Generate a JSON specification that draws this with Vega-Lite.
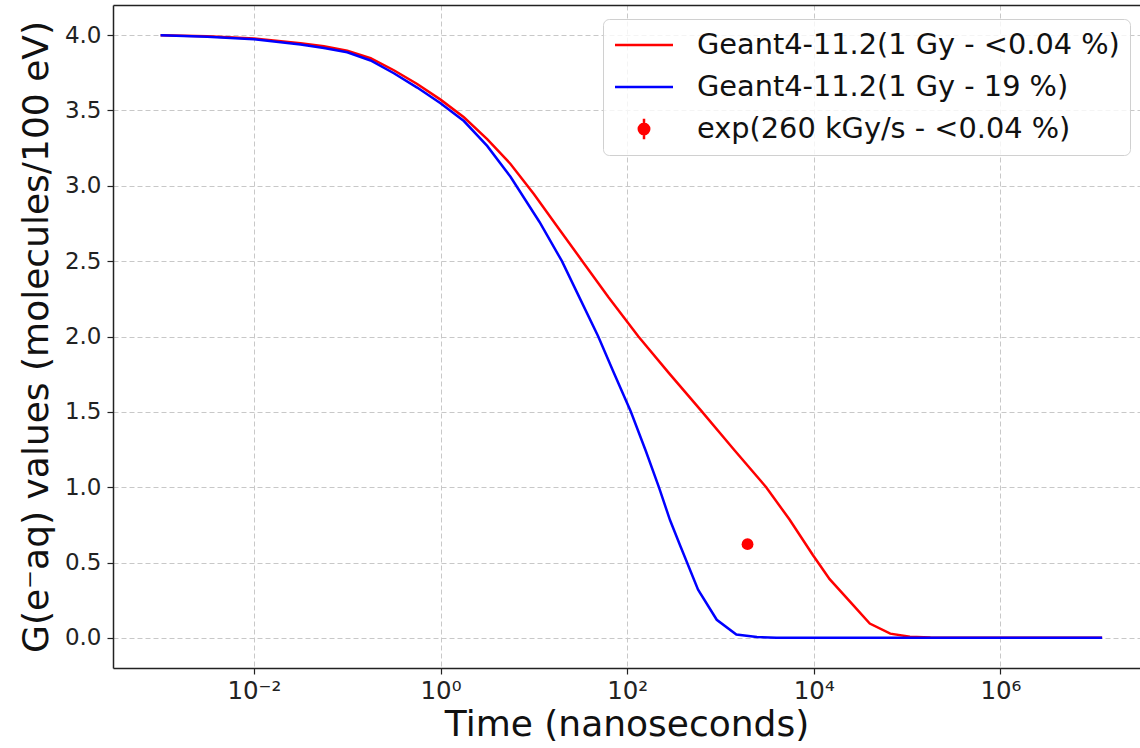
{
  "$schema": "https://vega.github.io/schema/vega-lite/v6.json",
  "autosize": "none",
  "width": 1027,
  "height": 663,
  "padding": {"left": 113, "top": 5, "right": 0, "bottom": 80},
  "background": "white",
  "data": {
    "values": [
      {"t": 0.001, "G": 4.0, "series": "Geant4-11.2(1 Gy - <0.04 %)"},
      {"t": 0.00316, "G": 3.992, "series": "Geant4-11.2(1 Gy - <0.04 %)"},
      {"t": 0.01, "G": 3.978, "series": "Geant4-11.2(1 Gy - <0.04 %)"},
      {"t": 0.0316, "G": 3.947, "series": "Geant4-11.2(1 Gy - <0.04 %)"},
      {"t": 0.0562, "G": 3.926, "series": "Geant4-11.2(1 Gy - <0.04 %)"},
      {"t": 0.1, "G": 3.897, "series": "Geant4-11.2(1 Gy - <0.04 %)"},
      {"t": 0.178, "G": 3.847, "series": "Geant4-11.2(1 Gy - <0.04 %)"},
      {"t": 0.316, "G": 3.767, "series": "Geant4-11.2(1 Gy - <0.04 %)"},
      {"t": 0.562, "G": 3.676, "series": "Geant4-11.2(1 Gy - <0.04 %)"},
      {"t": 1.0, "G": 3.572, "series": "Geant4-11.2(1 Gy - <0.04 %)"},
      {"t": 1.78, "G": 3.455, "series": "Geant4-11.2(1 Gy - <0.04 %)"},
      {"t": 3.16, "G": 3.31, "series": "Geant4-11.2(1 Gy - <0.04 %)"},
      {"t": 5.62, "G": 3.145, "series": "Geant4-11.2(1 Gy - <0.04 %)"},
      {"t": 10.0, "G": 2.945, "series": "Geant4-11.2(1 Gy - <0.04 %)"},
      {"t": 17.8, "G": 2.73, "series": "Geant4-11.2(1 Gy - <0.04 %)"},
      {"t": 33.1, "G": 2.5, "series": "Geant4-11.2(1 Gy - <0.04 %)"},
      {"t": 63.1, "G": 2.26, "series": "Geant4-11.2(1 Gy - <0.04 %)"},
      {"t": 132, "G": 2.0, "series": "Geant4-11.2(1 Gy - <0.04 %)"},
      {"t": 282, "G": 1.755, "series": "Geant4-11.2(1 Gy - <0.04 %)"},
      {"t": 617, "G": 1.51, "series": "Geant4-11.2(1 Gy - <0.04 %)"},
      {"t": 1413, "G": 1.245, "series": "Geant4-11.2(1 Gy - <0.04 %)"},
      {"t": 3090, "G": 1.0, "series": "Geant4-11.2(1 Gy - <0.04 %)"},
      {"t": 5495, "G": 0.785, "series": "Geant4-11.2(1 Gy - <0.04 %)"},
      {"t": 9772, "G": 0.55, "series": "Geant4-11.2(1 Gy - <0.04 %)"},
      {"t": 14791, "G": 0.39, "series": "Geant4-11.2(1 Gy - <0.04 %)"},
      {"t": 25704, "G": 0.225, "series": "Geant4-11.2(1 Gy - <0.04 %)"},
      {"t": 39811, "G": 0.095, "series": "Geant4-11.2(1 Gy - <0.04 %)"},
      {"t": 66069, "G": 0.028, "series": "Geant4-11.2(1 Gy - <0.04 %)"},
      {"t": 107152, "G": 0.007, "series": "Geant4-11.2(1 Gy - <0.04 %)"},
      {"t": 177828, "G": 0.002, "series": "Geant4-11.2(1 Gy - <0.04 %)"},
      {"t": 316228, "G": 0.0, "series": "Geant4-11.2(1 Gy - <0.04 %)"},
      {"t": 12302688, "G": 0.0, "series": "Geant4-11.2(1 Gy - <0.04 %)"},
      {"t": 0.001, "G": 4.0, "series": "Geant4-11.2(1 Gy - 19 %)"},
      {"t": 0.00316, "G": 3.99, "series": "Geant4-11.2(1 Gy - 19 %)"},
      {"t": 0.01, "G": 3.972, "series": "Geant4-11.2(1 Gy - 19 %)"},
      {"t": 0.0316, "G": 3.938, "series": "Geant4-11.2(1 Gy - 19 %)"},
      {"t": 0.0562, "G": 3.915, "series": "Geant4-11.2(1 Gy - 19 %)"},
      {"t": 0.1, "G": 3.886, "series": "Geant4-11.2(1 Gy - 19 %)"},
      {"t": 0.178, "G": 3.832, "series": "Geant4-11.2(1 Gy - 19 %)"},
      {"t": 0.316, "G": 3.747, "series": "Geant4-11.2(1 Gy - 19 %)"},
      {"t": 0.562, "G": 3.652, "series": "Geant4-11.2(1 Gy - 19 %)"},
      {"t": 1.0, "G": 3.548, "series": "Geant4-11.2(1 Gy - 19 %)"},
      {"t": 1.78, "G": 3.43, "series": "Geant4-11.2(1 Gy - 19 %)"},
      {"t": 3.16, "G": 3.265, "series": "Geant4-11.2(1 Gy - 19 %)"},
      {"t": 5.62, "G": 3.06, "series": "Geant4-11.2(1 Gy - 19 %)"},
      {"t": 11.5, "G": 2.76, "series": "Geant4-11.2(1 Gy - 19 %)"},
      {"t": 20.0, "G": 2.5, "series": "Geant4-11.2(1 Gy - 19 %)"},
      {"t": 31.6, "G": 2.245, "series": "Geant4-11.2(1 Gy - 19 %)"},
      {"t": 49.0, "G": 2.0, "series": "Geant4-11.2(1 Gy - 19 %)"},
      {"t": 70.8, "G": 1.77, "series": "Geant4-11.2(1 Gy - 19 %)"},
      {"t": 109.6, "G": 1.5, "series": "Geant4-11.2(1 Gy - 19 %)"},
      {"t": 158.5, "G": 1.24, "series": "Geant4-11.2(1 Gy - 19 %)"},
      {"t": 218.8, "G": 1.0, "series": "Geant4-11.2(1 Gy - 19 %)"},
      {"t": 288.4, "G": 0.78, "series": "Geant4-11.2(1 Gy - 19 %)"},
      {"t": 371.5, "G": 0.61, "series": "Geant4-11.2(1 Gy - 19 %)"},
      {"t": 575.4, "G": 0.32, "series": "Geant4-11.2(1 Gy - 19 %)"},
      {"t": 912, "G": 0.12, "series": "Geant4-11.2(1 Gy - 19 %)"},
      {"t": 1479, "G": 0.022, "series": "Geant4-11.2(1 Gy - 19 %)"},
      {"t": 2455, "G": 0.006, "series": "Geant4-11.2(1 Gy - 19 %)"},
      {"t": 3981, "G": 0.001, "series": "Geant4-11.2(1 Gy - 19 %)"},
      {"t": 10000, "G": 0.0, "series": "Geant4-11.2(1 Gy - 19 %)"},
      {"t": 12302688, "G": 0.0, "series": "Geant4-11.2(1 Gy - 19 %)"},
      {"t": 1950, "G": 0.622, "series": "exp(260 kGy/s - <0.04 %)"}
    ]
  },
  "layer": [
    {
      "transform": [{"filter": "datum.series != 'exp(260 kGy/s - <0.04 %)'"}],
      "mark": {"type": "line", "strokeWidth": 2.5, "clip": true},
      "encoding": {
        "x": {
          "field": "t", "type": "quantitative",
          "scale": {"type": "log", "domain": [0.000309, 31330000], "nice": false},
          "axis": {
            "values": [0.01, 1, 100, 10000, 1000000],
            "labelExpr": "datum.value < 0.1 ? '10⁻²' : datum.value < 10 ? '10⁰' : datum.value < 1000 ? '10²' : datum.value < 100000 ? '10⁴' : '10⁶'",
            "title": "Time (nanoseconds)",
            "grid": true,
            "labelFontSize": 24.5,
            "labelPadding": 5,
            "titlePadding": 5
          }
        },
        "y": {
          "field": "G", "type": "quantitative",
          "scale": {"domain": [-0.2, 4.2], "nice": false, "zero": false},
          "axis": {
            "values": [0, 0.5, 1, 1.5, 2, 2.5, 3, 3.5, 4],
            "format": ".1f",
            "title": "G(e⁻aq) values (molecules/100 eV)",
            "grid": true,
            "labelPadding": 6,
            "titlePadding": 9
          }
        },
        "color": {
          "field": "series", "type": "nominal",
          "scale": {
            "domain": ["Geant4-11.2(1 Gy - <0.04 %)", "Geant4-11.2(1 Gy - 19 %)", "exp(260 kGy/s - <0.04 %)"],
            "range": ["#ff0000", "#0000ff", "#ff0000"]
          },
          "legend": {
            "title": null,
            "orient": "none",
            "legendX": 490,
            "legendY": 14,
            "padding": 10,
            "fillColor": "rgba(255,255,255,0.8)",
            "strokeColor": "#d0d0d0",
            "cornerRadius": 6,
            "labelFont": "DejaVu Sans",
            "labelFontSize": 28.8,
            "labelColor": "#111111",
            "labelLimit": 600,
            "rowPadding": 11,
            "symbolSize": 841,
            "symbolOffset": 15,
            "labelOffset": 37,
            "symbolStrokeWidth": 2.5,
            "encode": {
              "symbols": {
                "update": {
                  "shape": {"signal": "datum.value == 'exp(260 kGy/s - <0.04 %)' ? 'M0,-0.7L0,0.7M0.36,0A0.36,0.36,0,1,1,-0.36,0A0.36,0.36,0,1,1,0.36,0Z' : 'M-2,0L2,0'"},
                  "fill": {"signal": "datum.value == 'exp(260 kGy/s - <0.04 %)' ? '#ff0000' : 'transparent'"},
                  "stroke": {"signal": "datum.value == 'Geant4-11.2(1 Gy - 19 %)' ? '#0000ff' : '#ff0000'"},
                  "strokeWidth": {"value": 2.5},
                  "strokeCap": {"value": "butt"},
                  "size": {"value": 841},
                  "opacity": {"value": 1}
                }
              }
            }
          }
        }
      }
    },
    {
      "transform": [{"filter": "datum.series == 'exp(260 kGy/s - <0.04 %)'"}],
      "mark": {"type": "point", "filled": true, "size": 140, "opacity": 1, "shape": "circle"},
      "encoding": {
        "x": {
          "field": "t", "type": "quantitative",
          "scale": {"type": "log", "domain": [0.000309, 31330000], "nice": false},
          "axis": {"orient": "top", "labels": false, "ticks": false, "grid": false, "domain": true, "title": null}
        },
        "y": {
          "field": "G", "type": "quantitative",
          "scale": {"domain": [-0.2, 4.2], "nice": false, "zero": false}
        },
        "color": {"field": "series", "type": "nominal"}
      }
    }
  ],
  "resolve": {"axis": {"x": "independent"}},
  "config": {
    "view": {"stroke": null},
    "font": "DejaVu Sans",
    "axis": {
      "domainColor": "#222222",
      "domainWidth": 1.5,
      "tickColor": "#222222",
      "tickSize": 6,
      "tickWidth": 1.2,
      "labelFont": "DejaVu Sans",
      "labelFontSize": 23,
      "labelColor": "#222222",
      "titleFont": "DejaVu Sans",
      "titleFontSize": 36,
      "titleFontWeight": "normal",
      "titleColor": "#111111",
      "gridColor": "#c8c8c8",
      "gridDash": [5, 3],
      "gridWidth": 1
    }
  }
}
